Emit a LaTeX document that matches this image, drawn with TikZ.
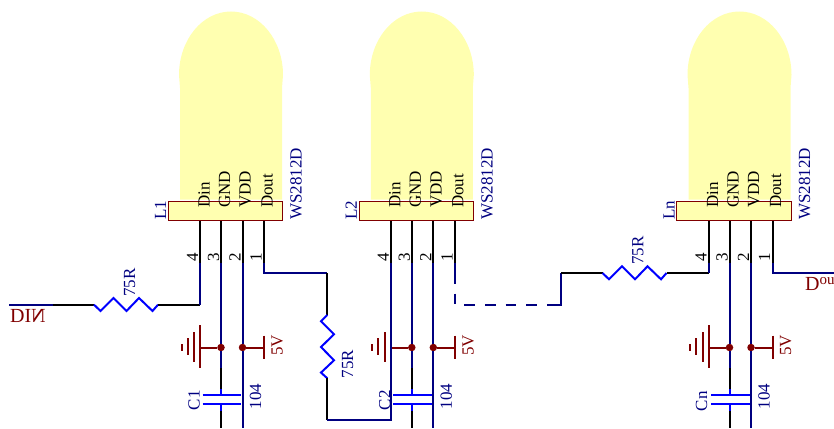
\documentclass[tikz,border=0pt]{standalone}
\usepackage{fontspec}
\setmainfont{Liberation Serif}
\definecolor{lampyellow}{HTML}{FFFFB0}
\definecolor{wirenavy}{HTML}{000080}
\definecolor{partblue}{HTML}{0000FF}
\definecolor{pwrred}{HTML}{800000}

\begin{document}
\begin{tikzpicture}[x=1pt, y=-1pt,
    lead/.style={black, line width=2pt},
    wire/.style={wirenavy, line width=2pt},
    part/.style={partblue, line width=2pt},
    pwr/.style={pwrred, line width=2pt},
    lamp/.style={fill=lampyellow},
    ledbox/.style={draw=pwrred, fill=lampyellow, line width=1pt, minimum width=114.5pt, minimum height=19pt, inner sep=0pt},
    junction/.style={circle, fill=pwrred, minimum size=7.5pt, inner sep=0pt},
    vtext/.style={rotate=90, anchor=base west, inner sep=0pt, font=\fontsize{17}{18}\selectfont},
    bluetext/.style={vtext, text=wirenavy},
    redtext/.style={vtext, text=pwrred},
    nettext/.style={anchor=base west, inner sep=0pt, text=pwrred, font=\fontsize{20}{22}\selectfont}]
    \clip (0,0) rectangle (834,428);

    % first lamp
    \begin{scope}[name prefix=L1-]
        \fill[lamp] (180,199.5) -- (180,88) .. controls (179,82) .. (179,75) arc[start angle=180, end angle=360, x radius=52, y radius=63.5] .. controls (283,82) .. (282,88) -- (282,199.5) -- cycle;
        \node[ledbox] (box) at (225.5,211) {};
        \node[vtext] (din) at (209.5,208) {Din};
        \node[vtext] (gnd) at (230,208) {GND};
        \node[vtext] (vdd) at (250.7,208) {VDD};
        \node[vtext] (dout) at (272.5,208) {Dout};
        \node[bluetext] (ref) at (166,220) {L1};
        \node[bluetext] (type) at (301.7,220) {WS2812D};
        \node[vtext] (n4) at (198,262) {4};
        \node[vtext] (n3) at (219,262) {3};
        \node[vtext] (n2) at (240.6,262) {2};
        \node[vtext] (n1) at (261.7,262) {1};
        \coordinate (p4) at (200,263);
        \coordinate (p3) at (221,263);
        \coordinate (p2) at (242.5,263);
        \coordinate (p1) at (264,263);
        \node[junction] (j3) at (221,347.5) {};
        \node[junction] (j2) at (242.5,347.5) {};
        \coordinate (earth) at (200,347.5);
        \coordinate (supply) at (264,347.5);
        \draw[pwr] (200,325) -- (200,368);
        \draw[pwr] (194,332) -- (194,362);
        \draw[pwr] (187.5,338) -- (187.5,355);
        \draw[pwr] (181.5,344) -- (181.5,351);
        \draw[pwr] (264,335.5) -- (264,359);
        \draw[pwr] (earth) -- (j3);
        \draw[pwr] (j2) -- (supply);
        \node[redtext] (volt) at (282.7,356) {5V};
        \draw[lead] (p4 |- box.south) -- (p4);
        \draw[lead] (p3 |- box.south) -- (p3);
        \draw[lead] (p2 |- box.south) -- (p2);
        \draw[lead] (p1 |- box.south) -- (p1);
        \draw[wire] (p3) -- (j3.north);
        \draw[wire] (j3.south) -- (221,368);
        \draw[lead] (221,368) -- (221,389);
        \draw[part] (221,389) -- (221,395);
        \draw[part] (202.5,395) -- (241,395);
        \draw[part] (202.5,404) -- (241,404);
        \draw[part] (221,404) -- (221,410.5);
        \draw[lead] (221,410.5) -- (221,428);
        \draw[wire] (p2) -- (j2.north);
        \draw[wire] (j2.south) -- (242.5,428);
        \node[bluetext] (cap) at (199.5,410.5) {C1};
        \node[bluetext] (capval) at (261,409.5) {104};
    \end{scope}

    % second lamp
    \begin{scope}[xshift=190.8, name prefix=L2-]
        \fill[lamp] (180,199.5) -- (180,88) .. controls (179,82) .. (179,75) arc[start angle=180, end angle=360, x radius=52, y radius=63.5] .. controls (283,82) .. (282,88) -- (282,199.5) -- cycle;
        \node[ledbox] (box) at (225.5,211) {};
        \node[vtext] (din) at (209.5,208) {Din};
        \node[vtext] (gnd) at (230,208) {GND};
        \node[vtext] (vdd) at (250.7,208) {VDD};
        \node[vtext] (dout) at (272.5,208) {Dout};
        \node[bluetext] (ref) at (166,220) {L2};
        \node[bluetext] (type) at (301.7,220) {WS2812D};
        \node[vtext] (n4) at (198,262) {4};
        \node[vtext] (n3) at (219,262) {3};
        \node[vtext] (n2) at (240.6,262) {2};
        \node[vtext] (n1) at (261.7,262) {1};
        \coordinate (p4) at (200,263);
        \coordinate (p3) at (221,263);
        \coordinate (p2) at (242.5,263);
        \coordinate (p1) at (264,263);
        \node[junction] (j3) at (221,347.5) {};
        \node[junction] (j2) at (242.5,347.5) {};
        \coordinate (earth) at (200,347.5);
        \coordinate (supply) at (264,347.5);
        \draw[pwr] (200,325) -- (200,368);
        \draw[pwr] (194,332) -- (194,362);
        \draw[pwr] (187.5,338) -- (187.5,355);
        \draw[pwr] (181.5,344) -- (181.5,351);
        \draw[pwr] (264,335.5) -- (264,359);
        \draw[pwr] (earth) -- (j3);
        \draw[pwr] (j2) -- (supply);
        \node[redtext] (volt) at (282.7,356) {5V};
        \draw[lead] (p4 |- box.south) -- (p4);
        \draw[lead] (p3 |- box.south) -- (p3);
        \draw[lead] (p2 |- box.south) -- (p2);
        \draw[lead] (p1 |- box.south) -- (p1);
        \draw[wire] (p3) -- (j3.north);
        \draw[wire] (j3.south) -- (221,368);
        \draw[lead] (221,368) -- (221,389);
        \draw[part] (221,389) -- (221,395);
        \draw[part] (202.5,395) -- (241,395);
        \draw[part] (202.5,404) -- (241,404);
        \draw[part] (221,404) -- (221,410.5);
        \draw[lead] (221,410.5) -- (221,428);
        \draw[wire] (p2) -- (j2.north);
        \draw[wire] (j2.south) -- (242.5,428);
        \node[bluetext] (cap) at (199.5,410.5) {C2};
        \node[bluetext] (capval) at (261,409.5) {104};
    \end{scope}

    % last lamp
    \begin{scope}[xshift=508.5, name prefix=Ln-]
        \fill[lamp] (180,199.5) -- (180,88) .. controls (179,82) .. (179,75) arc[start angle=180, end angle=360, x radius=52, y radius=63.5] .. controls (283,82) .. (282,88) -- (282,199.5) -- cycle;
        \node[ledbox] (box) at (225.5,211) {};
        \node[vtext] (din) at (209.5,208) {Din};
        \node[vtext] (gnd) at (230,208) {GND};
        \node[vtext] (vdd) at (250.7,208) {VDD};
        \node[vtext] (dout) at (272.5,208) {Dout};
        \node[bluetext] (ref) at (166,220) {Ln};
        \node[bluetext] (type) at (301.7,220) {WS2812D};
        \node[vtext] (n4) at (198,262) {4};
        \node[vtext] (n3) at (219,262) {3};
        \node[vtext] (n2) at (240.6,262) {2};
        \node[vtext] (n1) at (261.7,262) {1};
        \coordinate (p4) at (200,263);
        \coordinate (p3) at (221,263);
        \coordinate (p2) at (242.5,263);
        \coordinate (p1) at (264,263);
        \node[junction] (j3) at (221,347.5) {};
        \node[junction] (j2) at (242.5,347.5) {};
        \coordinate (earth) at (200,347.5);
        \coordinate (supply) at (264,347.5);
        \draw[pwr] (200,325) -- (200,368);
        \draw[pwr] (194,332) -- (194,362);
        \draw[pwr] (187.5,338) -- (187.5,355);
        \draw[pwr] (181.5,344) -- (181.5,351);
        \draw[pwr] (264,335.5) -- (264,359);
        \draw[pwr] (earth) -- (j3);
        \draw[pwr] (j2) -- (supply);
        \node[redtext] (volt) at (282.7,356) {5V};
        \draw[lead] (p4 |- box.south) -- (p4);
        \draw[lead] (p3 |- box.south) -- (p3);
        \draw[lead] (p2 |- box.south) -- (p2);
        \draw[lead] (p1 |- box.south) -- (p1);
        \draw[wire] (p3) -- (j3.north);
        \draw[wire] (j3.south) -- (221,368);
        \draw[lead] (221,368) -- (221,389);
        \draw[part] (221,389) -- (221,395);
        \draw[part] (202.5,395) -- (241,395);
        \draw[part] (202.5,404) -- (241,404);
        \draw[part] (221,404) -- (221,410.5);
        \draw[lead] (221,410.5) -- (221,428);
        \draw[wire] (p2) -- (j2.north);
        \draw[wire] (j2.south) -- (242.5,428);
        \node[bluetext] (cap) at (198.5,411.5) {Cn};
        \node[bluetext] (capval) at (261,409.5) {104};
    \end{scope}

    % input side
    \node[nettext] (din) at (10,322) {DI\reflectbox{N}};
    \coordinate (dinend) at (9,304.7);
    \coordinate (dinmid) at (52.5,304.7);
    \coordinate (r1a) at (94,304.7);
    \coordinate (r1b) at (158,304.7);
    \coordinate (r1c) at (L1-p4 |- r1b);
    \draw[wire] (dinend) -- (dinmid);
    \draw[lead] (dinmid) -- (r1a);
    \draw[part] (r1a) -- ++(6.5,6.3) -- ++(13,-13) -- ++(13,13) -- ++(12.5,-13) -- ++(13.5,13) -- (r1b);
    \draw[lead] (r1b) -- (r1c);
    \draw[wire] (L1-p4) -- (r1c);
    \node[bluetext] (r1val) at (135,296.7) {75R};

    % from first lamp to second lamp
    \coordinate (r2t) at (327.3,273);
    \coordinate (r2a) at (327.3,315);
    \coordinate (r2b) at (327.3,378.3);
    \coordinate (r2c) at (327.3,420.3);
    \coordinate (l1out) at (L1-p1 |- r2t);
    \coordinate (l2in) at (L2-p4 |- r2c);
    \draw[wire] (L1-p1) -- (l1out) -- (r2t);
    \draw[lead] (r2t) -- (r2a);
    \draw[part] (r2a) -- ++(-6.3,6.3) -- ++(13,13) -- ++(-13,12.7) -- ++(13,13.3) -- ++(-13,12.3) -- (r2b);
    \draw[lead] (r2b) -- (r2c);
    \draw[wire] (r2c) -- (l2in) -- (L2-p4);
    \node[bluetext] (r2val) at (353,378.5) {75R};

    % from second lamp, broken run to last lamp
    \coordinate (gapa) at (L2-p1 |- 0,284);
    \coordinate (gapb) at (L2-p1 |- 0,293.5);
    \coordinate (gapc) at (L2-p1 |- 0,304.7);
    \coordinate (gapd) at (547,304.7);
    \coordinate (r3c) at (561,304.7);
    \coordinate (r3d) at (561,273);
    \coordinate (r3a) at (602.5,273);
    \coordinate (r3b) at (666.5,273);
    \coordinate (r3e) at (Ln-p4 |- r3b);
    \draw[wire] (L2-p1) -- (gapa);
    \draw[wire, dash pattern=on 10.7pt off 10pt] (gapb) -- (gapc) -- (gapd);
    \draw[wire] (gapd) -- (r3c) -- (r3d);
    \draw[lead] (r3d) -- (r3a);
    \draw[part] (r3a) -- ++(6.5,6.3) -- ++(13,-13) -- ++(13,13) -- ++(12.5,-13) -- ++(13.5,13) -- (r3b);
    \draw[lead] (r3b) -- (r3e);
    \draw[wire] (Ln-p4) -- (r3e);
    \node[bluetext] (r3val) at (643.3,265) {75R};

    % output side
    \coordinate (lnout) at (Ln-p1 |- r3d);
    \coordinate (doutend) at (834,273);
    \draw[wire] (Ln-p1) -- (lnout) -- (doutend);
    \node[nettext] (dout) at (805,290) {D\raisebox{6pt}{\fontsize{15}{16}\selectfont out}};
\end{tikzpicture}
\end{document}
